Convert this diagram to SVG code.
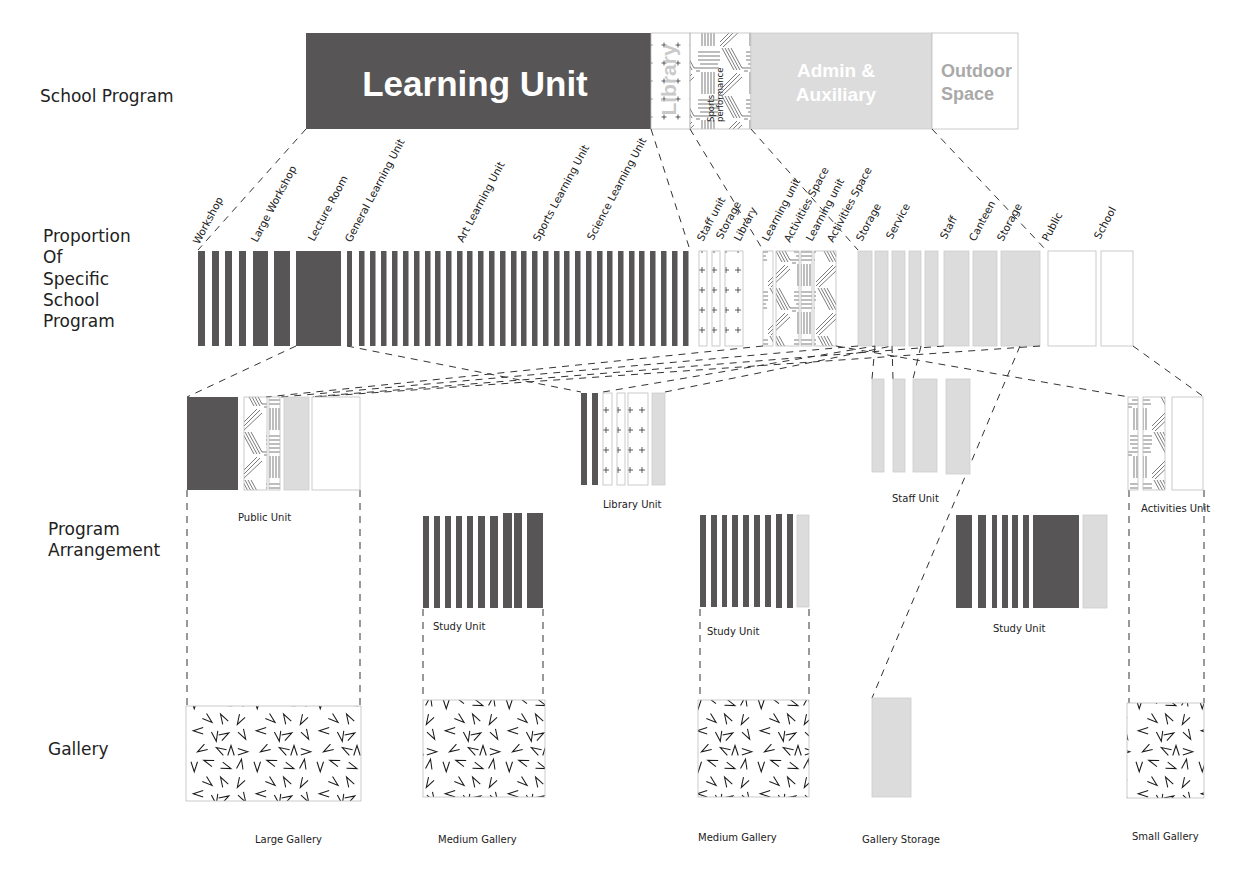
<svg xmlns="http://www.w3.org/2000/svg" width="1252" height="872" viewBox="0 0 1252 872">
<style>
.dk{fill:#575556}
.lg{fill:#dcdcdc;stroke:#cdcdcd;stroke-width:0.8}
.wh{fill:#fff;stroke:#bdbdbd;stroke-width:0.8}
.pl{fill:url(#plus);stroke:#bdbdbd;stroke-width:0.8}
.ht{fill:url(#hatch);stroke:#bdbdbd;stroke-width:0.8}
.gal{fill:url(#tri);stroke:#bdbdbd;stroke-width:0.8}
.cn{fill:none;stroke:#333;stroke-width:1;stroke-dasharray:7 6}
.lab{font-family:"DejaVu Sans",sans-serif;font-size:17px;fill:#222}
.sm{font-family:"DejaVu Sans",sans-serif;font-size:10px;fill:#222}
.rl{font-family:"DejaVu Sans",sans-serif;font-size:10.5px;fill:#222}
</style>
<defs>
<pattern id="plus" width="12" height="20" patternUnits="userSpaceOnUse"><path d="M3 10h6M6 7v6" stroke="#333" stroke-width="0.8"/></pattern>
<pattern id="plusT" width="14" height="18" patternUnits="userSpaceOnUse"><path d="M3.5 9h5M6 6.5v5" stroke="#333" stroke-width="0.8"/></pattern>
<pattern id="hatch" width="48" height="48" patternUnits="userSpaceOnUse">
<g stroke="#222" stroke-width="0.6" fill="none">
<path d="M2 0L14 22M5 0L17 22M8 0L20 22M11 0L22 20"/>
<path d="M26 4H48M26 8H48M26 12H48M28 16H46"/>
<path d="M0 46L20 26M0 42L17 25M3 47L22 29"/>
<path d="M30 24V46M33 24V46M36 24V46M39 24V46M42 24V46"/>
<path d="M22 20L47 20M24 23L28 23"/>
</g></pattern>
<pattern id="tri" width="60" height="60" patternUnits="userSpaceOnUse" patternTransform="scale(1.05)">
<g stroke="#1a1a1a" stroke-width="1" fill="none">
<path d="M1.9 5.5L5 15L8.1 5.5"/>
<path d="M24 4.3L14 4L21.9 10.2"/>
<path d="M30 11.7L40 12L32.1 5.8"/>
<path d="M51.4 12.9L50 3L45.3 11.8"/>
<path d="M12.7 24.3L22 28L16.7 19.5"/>
<path d="M37.4 26.7L30 20L32.1 29.8"/>
<path d="M48.1 20.2L46 30L53.4 23.3"/>
<path d="M13.5 32.9L4 36L13.5 39.1"/>
<path d="M21.3 37.2L26 46L27.4 36.1"/>
<path d="M31.3 45.4L38 38L28.2 40.1"/>
<path d="M46.6 37.3L54 44L51.9 34.2"/>
<path d="M14.7 48.6L8 56L17.8 53.9"/>
<path d="M43.1 59.5L40 50L36.9 59.5"/>
<path d="M46.5 59.1L56 56L46.5 52.9"/>
<path d="M35.8 54.1L26 52L32.7 59.4"/>
</g></pattern>
</defs>
<rect width="1252" height="872" fill="#fff"/>

<g id="row-labels">
<text class="lab" x="40" y="102">School Program</text>
<text class="lab" x="43" y="242">Proportion</text>
<text class="lab" x="43" y="263">Of</text>
<text class="lab" x="43" y="285">Specific</text>
<text class="lab" x="43" y="306">School</text>
<text class="lab" x="43" y="327">Program</text>
<text class="lab" x="48" y="535">Program</text>
<text class="lab" x="48" y="556">Arrangement</text>
<text class="lab" x="48" y="755">Gallery</text>
</g>

<g id="school-program">
<rect class="dk" x="306" y="33" width="345" height="96"/>
<text x="475" y="96" text-anchor="middle" font-family="Liberation Sans,Arial,sans-serif" font-weight="bold" font-size="35" fill="#fff">Learning Unit</text>
<rect x="651" y="33" width="39" height="96" fill="url(#plusT)" stroke="#bdbdbd" stroke-width="0.8"/>
<text transform="translate(676,80) rotate(-90)" text-anchor="middle" font-family="Liberation Sans,Arial,sans-serif" font-weight="bold" font-size="21" fill="#c9c9c9">Library</text>
<rect class="ht" x="690" y="33" width="61" height="96"/>
<text transform="translate(714,122) rotate(-90)" font-family="DejaVu Sans,sans-serif" font-size="8.5" fill="#222">Sports</text>
<text transform="translate(723,122) rotate(-90)" font-family="DejaVu Sans,sans-serif" font-size="8.5" fill="#222">performance</text>
<rect class="lg" x="751" y="33" width="181" height="96"/>
<text x="836" y="77" text-anchor="middle" font-family="Liberation Sans,Arial,sans-serif" font-weight="bold" font-size="19" fill="#fff">Admin &amp;</text>
<text x="836" y="101" text-anchor="middle" font-family="Liberation Sans,Arial,sans-serif" font-weight="bold" font-size="19" fill="#fff">Auxiliary</text>
<rect class="wh" x="932" y="33" width="86" height="96"/>
<text x="941" y="77" font-family="Liberation Sans,Arial,sans-serif" font-weight="bold" font-size="18" fill="#a9a9a9">Outdoor</text>
<text x="941" y="100" font-family="Liberation Sans,Arial,sans-serif" font-weight="bold" font-size="18" fill="#a9a9a9">Space</text>
</g>

<g id="proportion-labels" class="rl">
<text transform="translate(199,245) rotate(-62)">Workshop</text>
<text transform="translate(257,243) rotate(-62)">Large Workshop</text>
<text transform="translate(314,242) rotate(-62)">Lecture Room</text>
<text transform="translate(351,243) rotate(-62)">General Learning Unit</text>
<text transform="translate(463,243) rotate(-62)">Art  Learning Unit</text>
<text transform="translate(539,242) rotate(-62)">Sports  Learning Unit</text>
<text transform="translate(593,241) rotate(-62)">Science  Learning Unit</text>
<text transform="translate(703,242) rotate(-62)">Staff unit</text>
<text transform="translate(722,240) rotate(-62)">Storage</text>
<text transform="translate(740,242) rotate(-62)">Library</text>
<text transform="translate(768,242) rotate(-62)">Learning unit</text>
<text transform="translate(790,243) rotate(-62)">Activities Space</text>
<text transform="translate(812,242) rotate(-62)">Learning unit</text>
<text transform="translate(833,243) rotate(-62)">Activities Space</text>
<text transform="translate(862,242) rotate(-62)">Storage</text>
<text transform="translate(892,240) rotate(-62)">Service</text>
<text transform="translate(946,240) rotate(-62)">Staff</text>
<text transform="translate(975,242) rotate(-62)">Canteen</text>
<text transform="translate(1003,242) rotate(-62)">Storage</text>
<text transform="translate(1048,242) rotate(-62)">Public</text>
<text transform="translate(1100,240) rotate(-62)">School</text>
</g>

<g id="proportion-bars">
<g class="dk">
<rect x="198" y="251" width="7" height="95"/><rect x="212" y="251" width="7" height="95"/><rect x="225" y="251" width="7" height="95"/><rect x="239" y="251" width="7" height="95"/>
<rect x="253" y="251" width="15" height="95"/><rect x="274" y="251" width="16" height="95"/><rect x="296" y="251" width="45" height="95"/><rect x="347" y="251" width="5" height="95"/>
<rect x="359" y="251" width="5.5" height="95"/><rect x="370" y="251" width="5.5" height="95"/><rect x="381" y="251" width="5.5" height="95"/><rect x="392" y="251" width="5.5" height="95"/><rect x="403" y="251" width="5.5" height="95"/><rect x="414" y="251" width="5.5" height="95"/><rect x="425" y="251" width="5.5" height="95"/><rect x="435" y="251" width="5.5" height="95"/><rect x="446" y="251" width="5.5" height="95"/><rect x="457" y="251" width="5.5" height="95"/><rect x="467" y="251" width="5.5" height="95"/><rect x="478" y="251" width="5.5" height="95"/><rect x="489" y="251" width="5.5" height="95"/><rect x="500" y="251" width="5.5" height="95"/><rect x="511" y="251" width="5.5" height="95"/><rect x="521" y="251" width="5.5" height="95"/><rect x="532" y="251" width="5.5" height="95"/><rect x="543" y="251" width="5.5" height="95"/><rect x="554" y="251" width="5.5" height="95"/><rect x="564" y="251" width="5.5" height="95"/><rect x="575" y="251" width="5.5" height="95"/><rect x="586" y="251" width="5.5" height="95"/><rect x="597" y="251" width="5.5" height="95"/><rect x="607" y="251" width="5.5" height="95"/><rect x="618" y="251" width="5.5" height="95"/><rect x="629" y="251" width="5.5" height="95"/><rect x="639" y="251" width="5.5" height="95"/><rect x="650" y="251" width="5.5" height="95"/><rect x="661" y="251" width="5.5" height="95"/><rect x="672" y="251" width="5.5" height="95"/><rect x="683" y="251" width="5.5" height="95"/>
</g>
<rect class="pl" x="699" y="251" width="8" height="95"/>
<rect class="pl" x="712" y="251" width="8" height="95"/>
<rect class="pl" x="725" y="251" width="18" height="95"/>
<rect class="ht" x="763" y="251" width="10" height="95"/>
<rect class="ht" x="776" y="251" width="23" height="95"/>
<rect class="ht" x="801" y="251" width="11" height="95"/>
<rect class="ht" x="814" y="251" width="22" height="95"/>
<rect class="lg" x="858" y="251" width="14" height="95"/><rect class="lg" x="875" y="251" width="13" height="95"/><rect class="lg" x="892" y="251" width="13" height="95"/><rect class="lg" x="909" y="251" width="12" height="95"/><rect class="lg" x="925" y="251" width="13" height="95"/><rect class="lg" x="944" y="251" width="25" height="95"/><rect class="lg" x="973" y="251" width="24" height="95"/><rect class="lg" x="1001" y="251" width="39" height="95"/>
<rect class="wh" x="1048" y="251" width="48" height="95"/><rect class="wh" x="1101" y="251" width="32" height="95"/>
</g>

<g id="connectors">
<path class="cn" d="M306 129L198 250"/>
<path class="cn" d="M651 129L690 250"/>
<path class="cn" d="M690 129L763 250"/>
<path class="cn" d="M751 129L858 250"/>
<path class="cn" d="M932 129L1046 250"/>
<path class="cn" d="M296 346L187 397"/>
<path class="cn" d="M347 346L581 392"/>
<path class="cn" d="M763 346L266 397"/>
<path class="cn" d="M858 346L281 397"/>
<path class="cn" d="M944 346L309 397"/>
<path class="cn" d="M1040 346L313 397"/>
<path class="cn" d="M603 392L875 346"/>
<path class="cn" d="M665 392L892 346"/>
<path class="cn" d="M836 346L1129 397"/>
<path class="cn" d="M1133 346L1204 397"/>
<path class="cn" d="M1020 346L872 698"/>
<path class="cn" d="M875 346L872 379"/>
<path class="cn" d="M892 346L893 379"/>
<path class="cn" d="M921 346L913 379"/>
<path class="cn" d="M187 490V706M360 490V706"/>
<path class="cn" d="M423 609V700M543 609V700"/>
<path class="cn" d="M700 609V700M809 609V700"/>
<path class="cn" d="M1129 490V703M1204 490V703"/>
</g>

<g id="public-unit">
<rect class="dk" x="187" y="397" width="51" height="93"/>
<rect class="ht" x="244" y="397" width="23" height="93"/>
<rect class="ht" x="269" y="397" width="11" height="93"/>
<rect class="lg" x="284" y="397" width="25" height="93"/>
<rect class="wh" x="312" y="397" width="48" height="93"/>
<text class="sm" x="238" y="521">Public Unit</text>
</g>

<g id="library-unit">
<rect class="dk" x="581" y="393" width="6" height="92"/>
<rect class="dk" x="592" y="393" width="6" height="92"/>
<rect class="pl" x="603" y="393" width="9" height="92"/>
<rect class="pl" x="617" y="393" width="8" height="92"/>
<rect class="pl" x="628" y="393" width="20" height="92"/>
<rect class="lg" x="652" y="393" width="13" height="92"/>
<text class="sm" x="603" y="508">Library Unit</text>
</g>

<g id="staff-unit">
<rect class="lg" x="872" y="379" width="12" height="93"/>
<rect class="lg" x="893" y="379" width="12" height="93"/>
<rect class="lg" x="913" y="379" width="24" height="93"/>
<rect class="lg" x="946" y="379" width="24" height="95"/>
<text class="sm" x="892" y="502">Staff Unit</text>
</g>

<g id="activities-unit">
<rect class="ht" x="1128" y="397" width="10" height="93"/>
<rect class="ht" x="1143" y="397" width="22" height="93"/>
<rect class="wh" x="1172" y="397" width="31" height="93"/>
<text class="sm" x="1141" y="512">Activities Unit</text>
</g>

<g id="study-unit-1">
<g class="dk">
<rect x="423" y="516" width="6" height="92"/><rect x="434" y="516" width="6" height="92"/><rect x="445" y="516" width="6" height="92"/><rect x="456" y="516" width="6" height="92"/><rect x="467" y="516" width="6" height="92"/><rect x="478" y="516" width="7" height="92"/><rect x="490" y="516" width="8" height="92"/><rect x="503" y="513" width="9" height="95"/><rect x="514" y="513" width="8" height="95"/><rect x="527" y="513" width="16" height="95"/>
</g>
<text class="sm" x="433" y="630">Study Unit</text>
</g>

<g id="study-unit-2">
<g class="dk">
<rect x="700" y="515" width="6" height="92"/><rect x="711" y="515" width="6" height="92"/><rect x="722" y="515" width="5" height="92"/><rect x="732" y="515" width="6" height="92"/><rect x="743" y="515" width="6" height="92"/><rect x="754" y="515" width="6" height="92"/><rect x="765" y="515" width="6" height="92"/><rect x="776" y="514" width="6" height="94"/><rect x="787" y="514" width="6" height="94"/>
</g>
<rect class="lg" x="797" y="515" width="12" height="92"/>
<text class="sm" x="707" y="635">Study Unit</text>
</g>

<g id="study-unit-3">
<g class="dk">
<rect x="956" y="515" width="16" height="93"/><rect x="978" y="515" width="8" height="93"/><rect x="992" y="515" width="5" height="93"/><rect x="1002" y="515" width="6" height="93"/><rect x="1012" y="515" width="6" height="93"/><rect x="1023" y="515" width="6" height="93"/><rect x="1033" y="515" width="46" height="93"/>
</g>
<rect class="lg" x="1083" y="515" width="24" height="93"/>
<text class="sm" x="993" y="632">Study Unit</text>
</g>

<g id="large-gallery">
<rect class="gal" x="186" y="706" width="175" height="95"/>
<text class="sm" x="255" y="843">Large Gallery</text>
</g>
<g id="medium-gallery-1">
<rect class="gal" x="423" y="700" width="122" height="97"/>
<text class="sm" x="438" y="843">Medium Gallery</text>
</g>
<g id="medium-gallery-2">
<rect class="gal" x="698" y="700" width="111" height="97"/>
<text class="sm" x="698" y="841">Medium Gallery</text>
</g>
<g id="gallery-storage">
<rect class="lg" x="872" y="698" width="39" height="99"/>
<text class="sm" x="862" y="843">Gallery Storage</text>
</g>
<g id="small-gallery">
<rect class="gal" x="1127" y="703" width="77" height="95"/>
<text class="sm" x="1132" y="840">Small Gallery</text>
</g>
</svg>
